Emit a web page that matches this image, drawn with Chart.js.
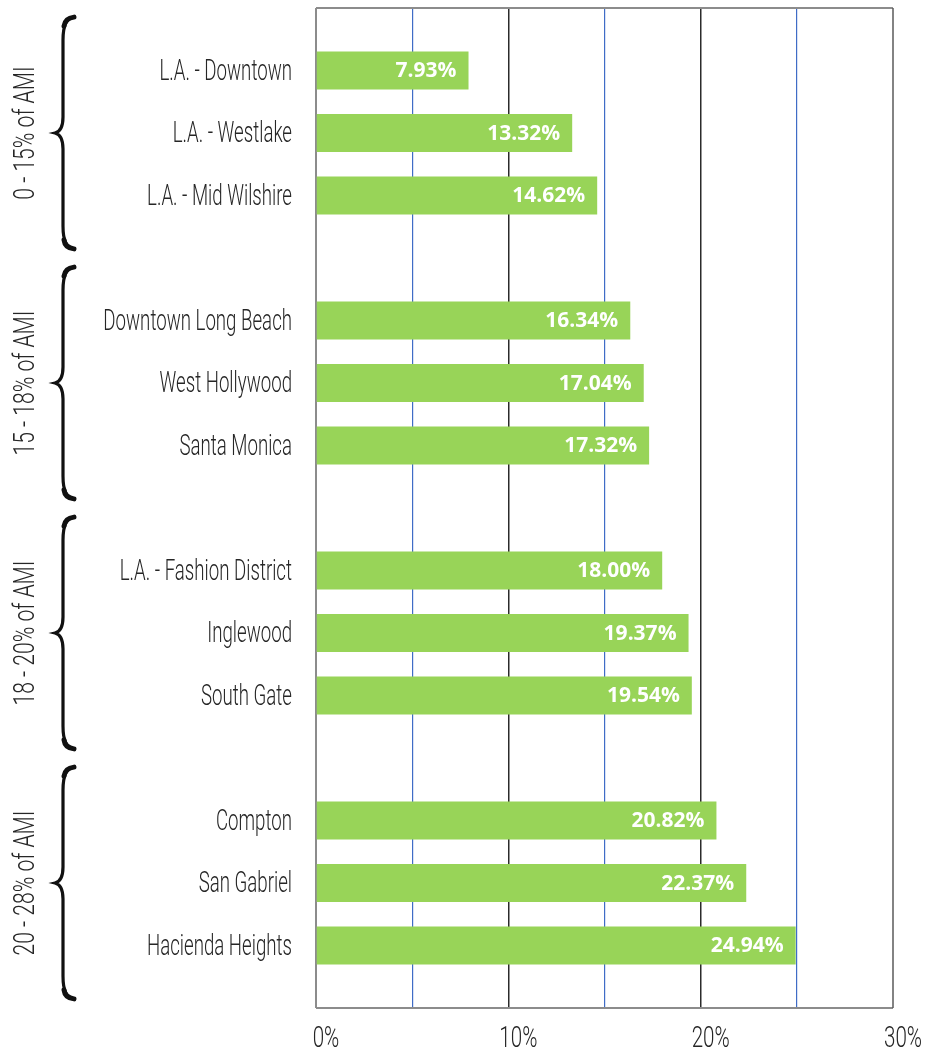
<!DOCTYPE html>
<html>
<head>
<meta charset="utf-8">
<script src="https://cdn.jsdelivr.net/npm/chart.js@4/dist/chart.umd.min.js"></script>
<style>
  body { margin: 0; background: #fff; }
  #wrap { width: 926px; height: 1050px; }
</style>
</head>
<body>
<div id="wrap"><canvas id="amiChart"></canvas></div>
<script>
const groupLabels = ['0 - 15% of AMI', '15 - 18% of AMI', '18 - 20% of AMI', '20 - 28% of AMI'];
const groupCities = [
  ['L.A. - Downtown', 'L.A. - Westlake', 'L.A. - Mid Wilshire'],
  ['Downtown Long Beach', 'West Hollywood', 'Santa Monica'],
  ['L.A. - Fashion District', 'Inglewood', 'South Gate'],
  ['Compton', 'San Gabriel', 'Hacienda Heights']
];
const groupShares = [
  [7.93, 13.32, 14.62],
  [16.34, 17.04, 17.32],
  [18.00, 19.37, 19.54],
  [20.82, 22.37, 24.94]
];
const xTickLabels = [0, 10, 20, 30];

// the original uses a light condensed face; squeeze a light sans horizontally
const thinFont = "300 30px Roboto, 'DejaVu Sans Condensed', sans-serif";
const textColor = '#262626';

// build category rows with an empty row between groups (and at the ends)
const rowLabels = [''];
const rowValues = [null];
const groupMiddleRow = [];
groupCities.forEach((cities, g) => {
  cities.forEach((c, i) => {
    if (i === 1) groupMiddleRow.push(rowLabels.length);
    rowLabels.push(c);
    rowValues.push(groupShares[g][i]);
  });
  rowLabels.push('');
  rowValues.push(null);
});

function squeezedText(ctx, text, x, y, sx, align) {
  ctx.save();
  ctx.translate(x, y);
  ctx.scale(sx, 1);
  ctx.textAlign = align;
  ctx.textBaseline = 'alphabetic';
  ctx.fillText(text, 0, 0);
  ctx.restore();
}

const framePlugin = {
  id: 'frame',
  beforeDatasetsDraw(chart) {
    const { ctx, chartArea: a } = chart;
    ctx.save();
    ctx.lineWidth = 2;
    ctx.strokeStyle = '#8c8c8c';
    ctx.beginPath();
    ctx.moveTo(a.left, a.top); ctx.lineTo(a.right, a.top);
    ctx.moveTo(a.left, a.bottom); ctx.lineTo(a.right, a.bottom);
    ctx.moveTo(a.left, a.top); ctx.lineTo(a.left, a.bottom);
    ctx.stroke();
    ctx.lineWidth = 1.5;
    ctx.strokeStyle = '#5a5a5a';
    ctx.beginPath();
    ctx.moveTo(a.right, a.top); ctx.lineTo(a.right, a.bottom);
    ctx.stroke();
    ctx.restore();
  }
};

const valueLabels = {
  id: 'valueLabels',
  afterDatasetsDraw(chart) {
    const { ctx } = chart;
    const meta = chart.getDatasetMeta(0);
    ctx.save();
    ctx.font = "bold 21px 'Open Sans', sans-serif";
    ctx.fillStyle = '#ffffff';
    ctx.textAlign = 'right';
    ctx.textBaseline = 'middle';
    meta.data.forEach((bar, i) => {
      const v = rowValues[i];
      if (v === null) return;
      ctx.fillText(v.toFixed(2) + '%', bar.x - 12, bar.y + 1);
    });
    ctx.restore();
  }
};

// axis texts drawn at the scales' tick positions in a narrowed face
const axisText = {
  id: 'axisText',
  afterDraw(chart) {
    const { ctx, chartArea } = chart;
    const x = chart.scales.x, y = chart.scales.y;
    ctx.save();
    ctx.font = thinFont;
    ctx.fillStyle = textColor;
    const citySx = 145 / ctx.measureText('Hacienda Heights').width;
    const tickSx = 38 / ctx.measureText('10%').width;
    const groupSx = 145 / ctx.measureText('20 - 28% of AMI').width;

    y.ticks.forEach((t, i) => {
      const label = rowLabels[i];
      if (!label) return;
      squeezedText(ctx, label, y.right - 24, y.getPixelForTick(i) + 9, citySx, 'right');
    });

    x.ticks.forEach((t, i) => {
      if (!xTickLabels.includes(t.value)) return;
      squeezedText(ctx, t.value + '%', x.getPixelForTick(i) + 10, chartArea.bottom + 39, tickSx, 'center');
    });

    groupLabels.forEach((name, g) => {
      const mid = y.getPixelForValue(groupMiddleRow[g]);
      ctx.save();
      ctx.translate(34, mid);
      ctx.rotate(-Math.PI / 2);
      squeezedText(ctx, name, 0, 0, groupSx, 'center');
      ctx.restore();
    });
    ctx.restore();
  }
};

// curly braces on the far left
const groupBraces = {
  id: 'groupBraces',
  afterDraw(chart) {
    const { ctx } = chart;
    const y = chart.scales.y;
    const slot = y.getPixelForValue(1) - y.getPixelForValue(0);
    const half = slot * 1.87;
    const x0 = 63;
    ctx.save();
    ctx.strokeStyle = '#111';
    ctx.lineCap = 'round';
    groupLabels.forEach((name, g) => {
      const mid = y.getPixelForValue(groupMiddleRow[g]);
      const top = mid - half, bot = mid + half;
      ctx.lineWidth = 3.2;
      ctx.beginPath();
      ctx.moveTo(x0 + 11, top + 1);
      ctx.quadraticCurveTo(x0, top + 2, x0, top + 24);
      ctx.lineTo(x0, mid - 16);
      ctx.quadraticCurveTo(x0, mid - 2, x0 - 8, mid);
      ctx.quadraticCurveTo(x0, mid + 2, x0, mid + 16);
      ctx.lineTo(x0, bot - 24);
      ctx.quadraticCurveTo(x0, bot - 2, x0 + 11, bot - 1);
      ctx.stroke();
      // heavier hooks at both ends
      ctx.lineWidth = 5;
      ctx.beginPath();
      ctx.moveTo(x0 + 11, top + 1);
      ctx.quadraticCurveTo(x0 + 2, top + 2, x0 + 1, top + 10);
      ctx.moveTo(x0 + 11, bot - 1);
      ctx.quadraticCurveTo(x0 + 2, bot - 2, x0 + 1, bot - 10);
      ctx.stroke();
    });
    ctx.restore();
  }
};

new Chart(document.getElementById('amiChart'), {
  type: 'bar',
  data: {
    labels: rowLabels,
    datasets: [{
      data: rowValues,
      backgroundColor: '#98d458',
      borderWidth: 0,
      barPercentage: 0.61,
      categoryPercentage: 1
    }]
  },
  options: {
    indexAxis: 'y',
    responsive: true,
    maintainAspectRatio: false,
    animation: false,
    layout: { autoPadding: false, padding: { top: 8, right: 33, left: 0, bottom: 0 } },
    plugins: {
      legend: { display: false },
      tooltip: { enabled: false }
    },
    scales: {
      x: {
        min: 0,
        max: 30,
        afterFit(scale) { scale.height = 42; scale.paddingLeft = 0; scale.paddingRight = 0; },
        border: { display: false },
        grid: {
          drawTicks: false,
          color: c => {
            const v = c.tick ? c.tick.value : 0;
            if (v === 0 || v === 30) return 'rgba(0,0,0,0)';
            return v % 10 === 0 ? '#2b2b2b' : '#3f6cc6';
          },
          lineWidth: c => (c.tick && c.tick.value % 10 === 0 ? 1.5 : 1.2)
        },
        ticks: { stepSize: 5, autoSkip: false, display: false }
      },
      y: {
        offset: false,
        afterFit(scale) { scale.width = 316; scale.paddingTop = 0; scale.paddingBottom = 0; },
        border: { display: false },
        grid: { display: false, drawTicks: false },
        ticks: { autoSkip: false, display: false }
      }
    }
  },
  plugins: [framePlugin, valueLabels, axisText, groupBraces]
});
</script>
</body>
</html>
